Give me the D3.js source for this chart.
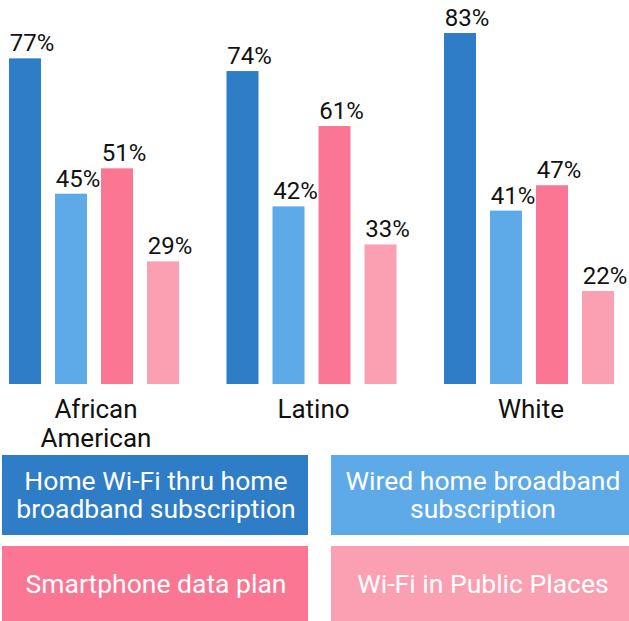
<!DOCTYPE html>
<html>
<head>
<meta charset="utf-8">
<script src="https://cdn.jsdelivr.net/npm/d3@7"></script>
<style>
  html, body { margin: 0; padding: 0; background: #fff; }
  svg { display: block; font-family: Roboto, sans-serif; }
</style>
</head>
<body>
<div id="chart"></div>
<script>
const groups = ['African American', 'Latino', 'White'];
const groupLines = [['African', 'American'], ['Latino'], ['White']];
const seriesNames = [
  'Home Wi-Fi thru home broadband subscription',
  'Wired home broadband subscription',
  'Smartphone data plan',
  'Wi-Fi in Public Places'
];
const legendLines = [
  ['Home Wi-Fi thru home', 'broadband subscription'],
  ['Wired home broadband', 'subscription'],
  ['Smartphone data plan'],
  ['Wi-Fi in Public Places']
];
const homeWifi = [77, 74, 83];
const wiredHome = [45, 42, 41];
const smartphone = [51, 61, 47];
const publicWifi = [29, 33, 22];
const colors = ['#2e7dc6', '#5ea9e8', '#fb7693', '#fb9fb2'];

const width = 629;
const height = 621;
const baseline = 384;

const values = [homeWifi, wiredHome, smartphone, publicWifi];
const data = groups.map((g, gi) => ({
  group: g,
  values: seriesNames.map((s, si) => ({ series: s, value: values[si][gi] }))
}));

const svg = d3.select('#chart').append('svg')
  .attr('width', width)
  .attr('height', height);

/* Scales */
const x0 = d3.scaleBand()
  .domain(groups)
  .range([9, 614])
  .paddingInner(47.5 / 217.5)
  .paddingOuter(0);

const x1 = d3.scaleBand()
  .domain(seriesNames)
  .range([0, x0.bandwidth()])
  .paddingInner(14 / 46)
  .paddingOuter(0);

const y = d3.scaleLinear()
  .domain([0, 83])
  .range([baseline, 33]);

const color = d3.scaleOrdinal()
  .domain(seriesNames)
  .range(colors);

/* Bars */
const groupSel = svg.append('g')
  .selectAll('g')
  .data(data).enter()
  .append('g')
  .attr('transform', d => `translate(${x0(d.group)},0)`);

groupSel.selectAll('rect')
  .data(d => d.values).enter()
  .append('rect')
  .attr('x', d => x1(d.series))
  .attr('y', d => y(d.value))
  .attr('width', x1.bandwidth())
  .attr('height', d => baseline - y(d.value))
  .style('fill', d => color(d.series));

groupSel.selectAll('text.value')
  .data(d => d.values).enter()
  .append('text')
  .attr('class', 'value')
  .attr('x', d => x1(d.series) + x1.bandwidth() / 2 + 7)
  .attr('y', d => y(d.value) - 7)
  .attr('text-anchor', 'middle')
  .style('font-size', '24px')
  .style('fill', '#111')
  .text(d => d.value + '%');

/* Category labels */
const catLabels = svg.append('g')
  .selectAll('text')
  .data(groups).enter()
  .append('text')
  .attr('text-anchor', 'middle')
  .attr('x', d => x0(d) + x0.bandwidth() / 2 + 2)
  .attr('y', 418)
  .style('font-size', '26px')
  .style('fill', '#111');

catLabels.selectAll('tspan')
  .data((d, i) => groupLines[i]).enter()
  .append('tspan')
  .attr('x', function() { return d3.select(this.parentNode).attr('x'); })
  .attr('dy', (d, i) => i === 0 ? 0 : 29)
  .text(d => d);

/* Legend boxes */
const boxX = d3.scaleOrdinal().domain([0, 1]).range([2, 331]);
const boxY = d3.scaleOrdinal().domain([0, 1]).range([455, 546]);
const boxW = 306;

const legend = svg.append('g')
  .selectAll('g')
  .data(seriesNames).enter()
  .append('g')
  .attr('transform', (d, i) => `translate(${boxX(i % 2)},${boxY(Math.floor(i / 2))})`);

legend.append('rect')
  .attr('width', boxW)
  .attr('height', 80)
  .style('fill', d => color(d));

legend.append('text')
  .attr('text-anchor', 'middle')
  .attr('x', (d, i) => i % 2 === 0 ? boxW / 2 + 1 : boxW / 2 - 1)
  .attr('y', (d, i) => legendLines[i].length === 2 ? 35 : 47)
  .style('font-size', '26.5px')
  .style('fill', '#fff')
  .each(function(d, i) {
    const t = d3.select(this);
    legendLines[i].forEach((line, li) => {
      t.append('tspan')
        .attr('x', t.attr('x'))
        .attr('dy', li === 0 ? 0 : 28)
        .text(line);
    });
  });
</script>
</body>
</html>
